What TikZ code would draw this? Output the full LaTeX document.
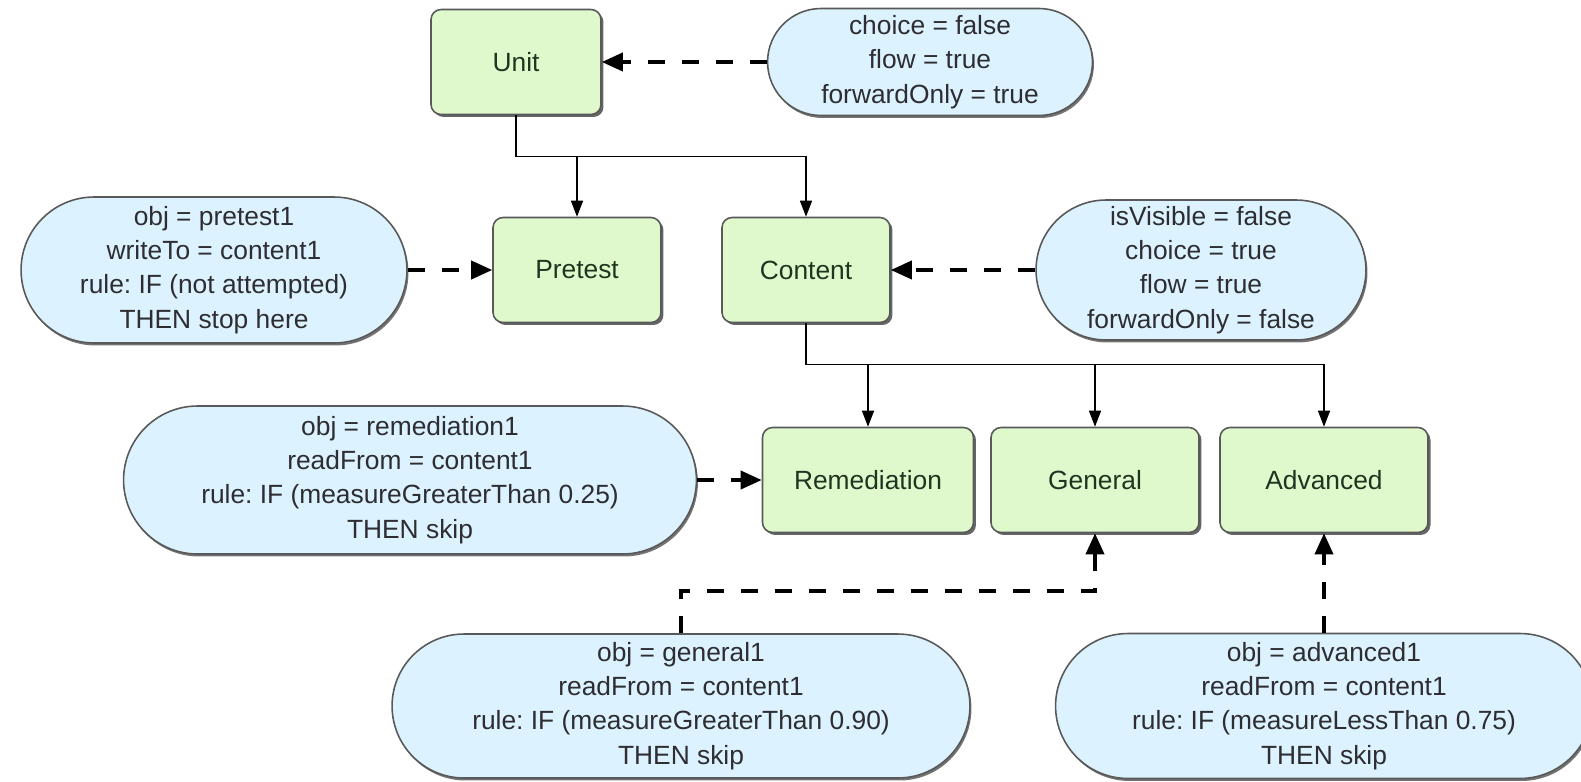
\documentclass[tikz,border=0pt]{standalone}
\usepackage{fontspec}
\setmainfont{Liberation Sans}
\usetikzlibrary{shapes.misc,arrows.meta,shadows}
\definecolor{boxgreen}{RGB}{224,249,204}
\definecolor{noteblue}{RGB}{220,243,255}
\definecolor{boxtext}{RGB}{32,52,32}
\definecolor{notetext}{RGB}{45,45,50}
\frenchspacing

\begin{document}
\begin{tikzpicture}[x=0.02cm,y=-0.02cm,font=\fontsize{15}{19.5}\selectfont]
\tikzset{BoxStyle/.style={draw=black!65,line width=0.9pt,rounded corners=0.2cm,fill=boxgreen,text=boxtext,minimum height=2.1cm,
  drop shadow={shadow xshift=0.05cm,shadow yshift=-0.05cm,fill=black!60,opacity=1}}}
\tikzset{NoteStyle/.style={draw=black!65,line width=0.9pt,rounded rectangle,fill=noteblue,text=notetext,align=center,inner sep=2pt,
  drop shadow={shadow xshift=0.03cm,shadow yshift=-0.05cm,fill=black!55,opacity=1}}}
\tikzset{TreeStyle/.style={line width=0.8pt,-{Triangle[length=0.32cm,width=0.24cm]}}}
\tikzset{RuleStyle/.style={line width=2.1pt,dash pattern=on 0.34cm off 0.34cm,-{Triangle[length=0.42cm,width=0.36cm]}}}
\useasboundingbox (0,0) rectangle (1581,781);
% units
\node[BoxStyle,minimum width=3.4cm] (unit) at (516,62) {Unit};
\node[BoxStyle,minimum width=3.36cm] (pretest) at (577,270) {Pretest};
\node[BoxStyle,minimum width=3.36cm] (content) at (806,270) {Content};
\node[BoxStyle,minimum width=4.22cm] (remediation) at (868,480) {Remediation};
\node[BoxStyle,minimum width=4.16cm] (general) at (1095,480) {General};
\node[BoxStyle,minimum width=4.16cm] (advanced) at (1324,480) {Advanced};
% rules
\node[NoteStyle,minimum width=6.64cm,minimum height=2.14cm] (unitnote) at (930,62)
  {choice = false\\flow = true\\forwardOnly = true};
\node[NoteStyle,minimum width=7.86cm,minimum height=2.92cm] (pretestnote) at (214,270)
  {obj = pretest1\\writeTo = content1\\rule: IF (not attempted)\\THEN stop here};
\node[NoteStyle,minimum width=6.74cm,minimum height=2.8cm] (contentnote) at (1201,270)
  {isVisible = false\\choice = true\\flow = true\\forwardOnly = false};
\node[NoteStyle,minimum width=11.6cm,minimum height=2.96cm] (remnote) at (410,480)
  {obj = remediation1\\readFrom = content1\\rule: IF (measureGreaterThan 0.25)\\THEN skip};
\node[NoteStyle,minimum width=11.7cm,minimum height=2.88cm] (gennote) at (681,706)
  {obj = general1\\readFrom = content1\\rule: IF (measureGreaterThan 0.90)\\THEN skip};
\node[NoteStyle,minimum width=10.88cm,minimum height=2.9cm] (advnote) at (1324,706)
  {obj = advanced1\\readFrom = content1\\rule: IF (measureLessThan 0.75)\\THEN skip};
% tree
\draw[TreeStyle] (unit.south) -- ++(0,41) coordinate (ufork) -| (content.north);
\draw[TreeStyle] (ufork -| pretest.north) -- (pretest.north);
\draw[TreeStyle] (content.south) -- ++(0,41) coordinate (cfork) -| (advanced.north);
\draw[TreeStyle] (cfork -| remediation.north) -- (remediation.north);
\draw[TreeStyle] (cfork -| general.north) -- (general.north);
% dashed
\draw[RuleStyle] (unitnote.west) -- (unit.east);
\draw[RuleStyle] (pretestnote.east) -- (pretest.west);
\draw[RuleStyle] (contentnote.west) -- (content.east);
\draw[RuleStyle] (remnote.east) -- (remediation.west);
\draw[RuleStyle] (gennote.north) -- ++(0,-42) -| (general.south);
\draw[RuleStyle] (advnote.north) -- (advanced.south);
\end{tikzpicture}
\end{document}
